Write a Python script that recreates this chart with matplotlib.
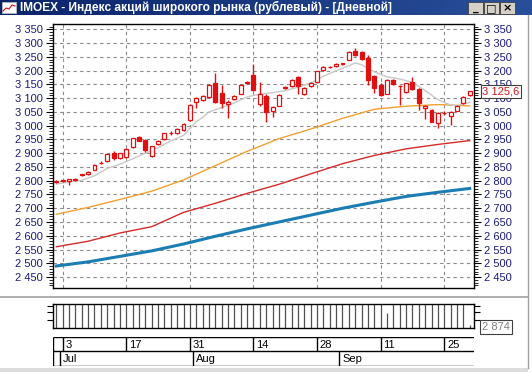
import numpy as np
import pandas as pd
import matplotlib
matplotlib.use("Agg")
import matplotlib.pyplot as plt
from matplotlib.patches import Rectangle
from matplotlib.lines import Line2D
from matplotlib.colors import LinearSegmentedColormap

# ---------------- data ----------------
dates = pd.bdate_range("2023-06-30", "2023-09-29")
opens = [2797, 2799, 2800, 2801, 2823, 2823, 2840, 2865, 2871, 2900,
         2883, 2886, 2922, 2958, 2948, 2891, 2934, 2950, 2972, 2974,
         2984, 3021, 3088, 3093, 3105, 3157, 3119, 3078, 3097, 3117,
         3156, 3186, 3079, 3108, 3054, 3073, 3138, 3145, 3178, 3114,
         3144, 3160, 3203, 3213, 3217, 3225, 3240, 3271, 3268, 3248,
         3181, 3148, 3117, 3168, 3146, 3123, 3160, 3135, 3063, 3057,
         3009, 3046, 3037, 3055, 3081, 3111]
highs = [2802, 2804, 2808, 2810, 2826, 2834, 2860, 2870, 2899, 2908,
         2902, 2918, 2957, 2962, 2950, 2928, 2947, 2975, 2980, 2990,
         3009, 3079, 3104, 3112, 3150, 3190, 3148, 3092, 3112, 3150,
         3162, 3226, 3160, 3117, 3072, 3114, 3143, 3169, 3180, 3141,
         3160, 3200, 3216, 3218, 3229, 3229, 3270, 3283, 3270, 3256,
         3184, 3154, 3171, 3170, 3149, 3157, 3178, 3138, 3075, 3060,
         3049, 3052, 3052, 3075, 3109, 3128]
lows = [2793, 2795, 2786, 2798, 2818, 2820, 2838, 2860, 2868, 2876,
        2880, 2884, 2920, 2943, 2906, 2888, 2931, 2948, 2966, 2971,
        2982, 3018, 3064, 3090, 3102, 3082, 3063, 3027, 3094, 3114,
        3152, 3125, 3070, 3015, 3033, 3070, 3135, 3142, 3114, 3111,
        3141, 3157, 3200, 3210, 3214, 3222, 3238, 3255, 3240, 3148,
        3118, 3108, 3114, 3147, 3075, 3120, 3130, 3057, 3025, 3012,
        2992, 3040, 3003, 3052, 3078, 3108]
closes = [2799, 2801, 2806, 2808, 2821, 2832, 2858, 2863, 2897, 2882,
          2900, 2916, 2955, 2946, 2913, 2925, 2944, 2973, 2974, 2988,
          3007, 3075, 3100, 3109, 3148, 3085, 3081, 3088, 3108, 3148,
          3158, 3129, 3117, 3049, 3069, 3111, 3140, 3166, 3144, 3138,
          3156, 3198, 3213, 3215, 3226, 3227, 3268, 3258, 3242, 3166,
          3138, 3111, 3168, 3150, 3144, 3154, 3133, 3081, 3072, 3015,
          3047, 3048, 3049, 3072, 3106, 3125.6]
volumes = [25000] * 66
volumes[52] = 12600
volumes[65] = 2874

gray_idx = [0, 2, 4, 6, 8, 10, 12, 14, 16, 18, 20, 21, 22, 23, 24, 26, 28, 30, 32,
            34, 36, 38, 40, 42, 44, 46, 47, 48, 50, 52, 54, 56, 58, 60, 62, 63, 65]
gray_val = [2788, 2795, 2802, 2818, 2845, 2860, 2880, 2900, 2920, 2945, 2965, 2990,
            3015, 3030, 3050, 3066, 3083, 3105, 3115, 3120, 3128, 3140, 3155, 3180,
            3200, 3218, 3228, 3222, 3196, 3178, 3170, 3158, 3128, 3095, 3075, 3073, 3085]
ma_idx = [0, 5, 10, 15, 20, 25, 30, 35, 40, 45, 50, 55, 60, 65]
orange_val = [2678, 2703, 2732, 2762, 2803, 2855, 2907, 2953, 2988, 3027, 3060, 3071, 3077, 3072]
red_val = [2560, 2580, 2610, 2633, 2685, 2718, 2754, 2787, 2825, 2862, 2892, 2916, 2932, 2946]
blue_val = [2490, 2505, 2525, 2545, 2570, 2598, 2625, 2650, 2675, 2700, 2722, 2743, 2758, 2772]

y_ticks = list(range(2450, 3351, 50))
title = "IMOEX - Индекс акций широкого рынка (рублевый) - [Дневной]"
last_label = "3 125,6"
vol_label = "2 874"

# ---------------- layout helpers ----------------
W, H = 532, 372
fig = plt.figure(figsize=(W / 100, H / 100), dpi=100)
fig.patch.set_facecolor("white")
FONT = "Liberation Sans"
NAVY = "#1c1c78"
RED = "#e01010"


def px_axes(x0, y0, x1, y1, **kw):
    return fig.add_axes([x0 / W, 1 - y1 / H, (x1 - x0) / W, (y1 - y0) / H], **kw)


x = np.arange(len(dates))
XL = (-0.57, 65.68)

# grid ticks: every second Monday from Jul 3
tick_dates = pd.date_range("2023-07-03", "2023-09-29", freq="14D")
tick_idx = [int(np.where(dates == d)[0][0]) for d in tick_dates]

# ---------------- main panel ----------------
ax = px_axes(52.7, 24, 474, 288)
ax.set_xlim(*XL)
ax.set_ylim(2410, 3370)
ax.set_yticks(y_ticks)
ax.set_yticks(range(2420, 3370, 10), minor=True)
ax.set_yticklabels([f"{v:,}".replace(",", " ") for v in y_ticks])
ax.set_xticks(tick_idx)
ax.set_xticklabels([])
ax.tick_params(axis="x", length=0)
ax.tick_params(axis="y", which="major", direction="out", length=5, width=0.8,
               left=True, right=True, labelleft=True, labelright=True,
               labelsize=8, labelcolor=NAVY, pad=2)
ax.tick_params(axis="y", which="minor", direction="out", length=3, width=0.6,
               left=True, right=True)
for lab in ax.get_yticklabels():
    lab.set_fontfamily(FONT)
ax.grid(True, which="major", ls=(0, (3, 3)), color="#8a8a8a", lw=0.8)
for s in ax.spines.values():
    s.set_linewidth(1.0)
    s.set_color("black")

ax.plot(ma_idx, blue_val, color="#1b7db4", lw=2.2, zorder=2)
ax.plot(ma_idx, red_val, color="#d42a2a", lw=1.0, zorder=2)
ax.plot(ma_idx, orange_val, color="#f0a030", lw=1.0, zorder=2)
ax.plot(gray_idx, gray_val, color="#c8c8c8", lw=1.0, zorder=2)

o = np.array(opens, float)
c = np.array(closes, float)
ax.vlines(x, lows, highs, color=RED, lw=1.0, zorder=3)
up = c >= o
body = np.where(np.abs(c - o) < 1.2, 1.2, c - o)
ax.bar(x, body, bottom=o, width=0.62, color=np.where(up, "white", RED),
       edgecolor=RED, lw=0.9, zorder=4)

# last value box (covers the right-hand tick labels behind it, as in the reference)
ylast = closes[-1]
ax.annotate(last_label, xy=(1.0, ylast), xycoords=("axes fraction", "data"),
            xytext=(6, 0), textcoords="offset points", ha="left", va="center",
            fontsize=8, color="#d01818", family=FONT, annotation_clip=False,
            bbox=dict(boxstyle="square,pad=0.15", fc="white", ec="#404040", lw=0.8),
            zorder=10)

# ---------------- volume panel ----------------
av = px_axes(52.7, 304, 474, 328.3)
av.set_xlim(*XL)
av.set_ylim(0, 20000)
av.vlines(x, 0, volumes, color="#505050", lw=0.9)
av.set_xticks([])
av.set_yticks([6700, 13200, 18600])
av.set_yticklabels([])
av.tick_params(axis="y", direction="out", length=4, width=0.8, left=True, right=True)
for s in av.spines.values():
    s.set_linewidth(1.0)
fig.text(496 / W, 1 - 327 / H, vol_label, ha="center", va="center", fontsize=8,
         color="#808080", family=FONT,
         bbox=dict(boxstyle="square,pad=0.2", fc="white", ec="#404040", lw=0.8))

# ---------------- date axis ----------------
ad = px_axes(52.7, 336.7, 474, 366)
ad.set_xlim(*XL)
ad.set_ylim(0, 2)
ad.axis("off")
ad.hlines([0, 1, 2], XL[0], XL[1], color="black", lw=1.0)
ad.vlines([XL[0]], 0, 2, color="black", lw=1.0)
ad.vlines(tick_idx, 1, 2, color="black", lw=1.0)
for i in tick_idx:
    ad.text(i + 0.45, 1.45, str(dates[i].day), ha="left", va="center",
            fontsize=8, family=FONT, color="black")
months = dates.to_period("M")
month_idx = [i for i in range(1, len(dates)) if months[i] != months[i - 1]]
for i in month_idx:
    ad.vlines([i - 0.5], 0, 1, color="black", lw=1.0)
    ad.text(i - 0.5 + 0.45, 0.45, dates[i].strftime("%b"), ha="left", va="center",
            fontsize=8, family=FONT, color="black")

# ---------------- window chrome ----------------
at = px_axes(0, 0, W, 15)
grad = np.linspace(0, 1, 256).reshape(1, -1)
cm = LinearSegmentedColormap.from_list("tb", ["#0a246a", "#2a4f9a"])
at.imshow(grad, aspect="auto", cmap=cm, extent=(0, W, 15, 0))
at.set_xlim(0, W)
at.set_ylim(15, 0)
at.axis("off")
at.text(20, 7.8, title, color="white", fontsize=8.6, fontweight="bold", family=FONT,
        ha="left", va="center")
# icon
at.add_patch(Rectangle((2, 2), 14, 11, fc="white", ec="#c0c0c0", lw=0.5))
at.plot([3, 6, 9, 12, 15], [11, 8, 9, 5, 6], color="#d01010", lw=0.8)
# buttons
for bx, sym in [(468, "_"), (484, "□"), (500, "×")]:
    at.add_patch(Rectangle((bx, 2), 15, 11.5, fc="#d4d0c8", ec="#404040", lw=0.6))
    at.text(bx + 7.5, 8, sym, ha="center", va="center", fontsize=8,
            fontweight="bold", color="black", family="DejaVu Sans")

fig.add_artist(Line2D([0, 528 / W], [1 - 297 / H] * 2, color="#a0a0a0", lw=1.2))
fig.add_artist(Line2D([528 / W] * 2, [1 - 368 / H, 1 - 15 / H], color="#a0a0a0", lw=1.0))
fig.add_artist(Rectangle((0, 0), 528 / W, 4 / H, transform=fig.transFigure,
                         fc="#dcdcdc", ec="none"))

fig.savefig("out.png", dpi=100, facecolor="white")
